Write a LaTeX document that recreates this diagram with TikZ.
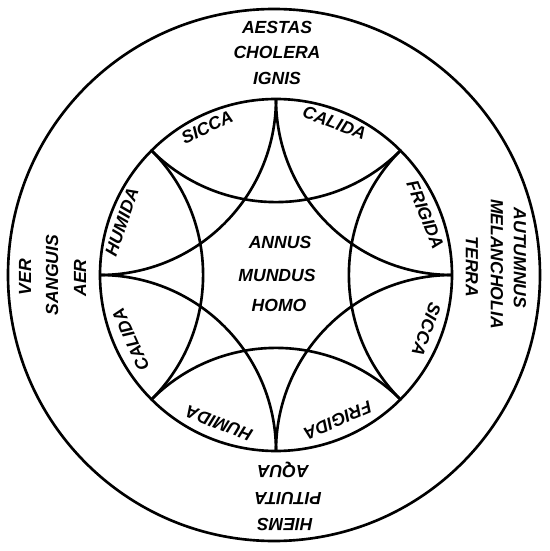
\documentclass[tikz,border=0pt]{standalone}
\usepackage{fontspec}
\setmainfont{Liberation Sans}
\begin{document}
\begin{tikzpicture}[ring/.style={line width=1.5pt},lbl/.style={font=\bfseries\itshape,inner sep=0pt}]
\useasboundingbox (-5.52,-5.52) rectangle (5.48,5.50);
\draw[ring] (-0.04,0) circle[radius=5.32];
\draw[ring] (0,0) circle[radius=3.52];
\foreach \a in {0,45,...,315}
  \draw[ring] (\a:3.52) arc[start angle=\a+270,end angle=\a+180,radius=3.52];
% seasons, humours, elements
\node[lbl] (aestas) at (0.02,4.96) {AESTAS};
\node[lbl] (cholera) at (0.02,4.46) {CHOLERA};
\node[lbl] (ignis) at (0.02,3.94) {IGNIS};
\node[lbl,rotate=90] (ver) at (-5.02,-0.04) {VER};
\node[lbl,rotate=90] (sanguis) at (-4.48,0) {SANGUIS};
\node[lbl,rotate=90] (aer) at (-3.92,-0.06) {AER};
\node[lbl,rotate=-90] (autumnus) at (4.88,0.34) {AUTUMNUS};
\node[lbl,rotate=-90] (melancholia) at (4.42,0.22) {MELANCHOLIA};
\node[lbl,rotate=-90] (terra) at (3.92,0.16) {TERRA};
\node[lbl,rotate=180] (aqua) at (0.14,-3.90) {AQUA};
\node[lbl,rotate=180] (pituita) at (0.24,-4.46) {PITUITA};
\node[lbl,rotate=180] (hiems) at (0.18,-5.00) {HIEMS};
% qualities
\node[lbl,rotate=25] (sicca1) at (115:3.26) {SICCA};
\node[lbl,rotate=-21] (calida1) at (69:3.26) {CALIDA};
\node[lbl,rotate=-68] (frigida1) at (22:3.22) {FRIGIDA};
\node[lbl,rotate=-110] (sicca2) at (-20:3.2) {SICCA};
\node[lbl,rotate=-157] (frigida2) at (-67:3.16) {FRIGIDA};
\node[lbl,rotate=159] (humida1) at (-111:3.18) {HUMIDA};
\node[lbl,rotate=114] (calida2) at (-156:3.18) {CALIDA};
\node[lbl,rotate=71] (humida2) at (161:3.26) {HUMIDA};
% centre
\node[lbl] (annus) at (0.08,0.66) {ANNUS};
\node[lbl] (mundus) at (0.02,0) {MUNDUS};
\node[lbl] (homo) at (0.06,-0.6) {HOMO};
\end{tikzpicture}
\end{document}
